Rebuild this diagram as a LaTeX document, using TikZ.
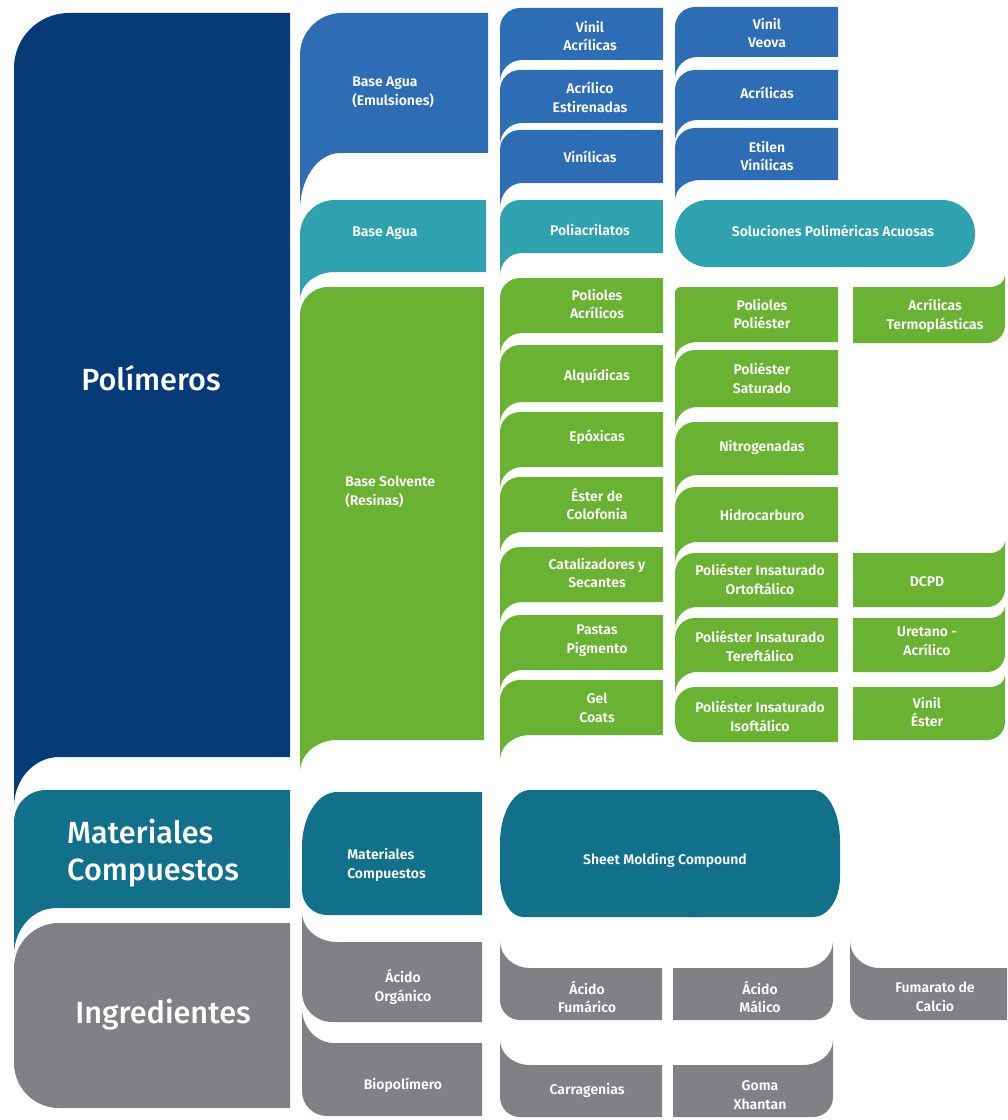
\documentclass[tikz,border=0pt]{standalone}
\usepackage{fontspec}
\setmainfont{Fira Sans}[BoldFont={Fira Sans SemiBold}]
\newfontfamily\medfont{Fira Sans Medium}
\definecolor{navy}{HTML}{053C78}
\definecolor{azul}{HTML}{2D6DB5}
\definecolor{turq}{HTML}{2EA2AF}
\definecolor{verde}{HTML}{6AB232}
\definecolor{petro}{HTML}{11708A}
\definecolor{gris}{HTML}{7F8184}
% Block with its shaped edge on the left.
% #2 left x, #3 right x, #4 top y, #5 bottom y,
% #6/#7 top-left corner (b>0 rounded, b<0 flared upwards),
% #8/#9 bottom-left corner (d>0 tail downwards, d<0 rounded).
\newcommand{\blkL}[9]{%
  \fill[#1] (#3,#4) -- ({#2+(#6)},#4)
    .. controls ({#2+0.448*(#6)},#4) and (#2,{#4+0.448*(#7)}) .. (#2,{#4+(#7)})
    -- (#2,{#5+(#9)})
    .. controls (#2,{#5+0.448*(#9)}) and ({#2+0.448*(#8)},#5) .. ({#2+(#8)},#5)
    -- (#3,#5) -- cycle;}
% Same block, mirrored: shaped edge on the right.
\newcommand{\blkR}[9]{%
  \fill[#1] (#2,#4) -- ({#3-(#6)},#4)
    .. controls ({#3-0.448*(#6)},#4) and (#3,{#4+0.448*(#7)}) .. (#3,{#4+(#7)})
    -- (#3,{#5+(#9)})
    .. controls (#3,{#5+0.448*(#9)}) and ({#3-0.448*(#8)},#5) .. ({#3-(#8)},#5)
    -- (#2,#5) -- cycle;}
\begin{document}
\begin{tikzpicture}[x=0.75pt,y=-0.75pt,
  lbl/.style={text=white,inner sep=0pt,align=center,
    font=\bfseries\fontsize{10.5}{14}\selectfont},
  big/.style={text=white,inner sep=0pt,align=left,
    font=\medfont\fontsize{23}{28}\selectfont}]
\useasboundingbox (0,0) rectangle (1007,1120);
\fill[white] (0,0) rectangle (1007,1120);

% ---- main categories
\blkL{navy}{14}{290}{13}{757}{55}{55}{45}{50}
\blkL{petro}{14}{290}{790}{908}{32}{32}{42}{47}
\blkL{gris}{14}{290}{923}{1108}{45}{45}{45}{-45}

% ---- second column
\blkL{azul}{300}{488}{13}{153}{42}{42}{40}{57}
\blkL{turq}{300}{486}{200}{272}{35}{35}{35}{28}
\blkL{verde}{300}{484}{287}{740}{28}{28}{37}{32}
\blkL{petro}{302}{482}{792}{915}{35}{55}{25}{-25}
\blkL{gris}{302}{482}{942}{1022}{35}{-30}{30}{-30}
\blkL{gris}{302}{482}{1043}{1116}{32}{-35}{25}{-25}

% ---- third column
\blkL{azul}{500}{663}{8}{60}{20}{20}{22}{22}
\blkL{azul}{500}{663}{70}{123}{20}{20}{22}{22}
\blkL{azul}{500}{663}{130}{183}{20}{20}{22}{25}
\blkL{turq}{500}{663}{200}{253}{20}{20}{22}{22}
\blkL{verde}{500}{663}{278}{333}{20}{20}{22}{22}
\blkL{verde}{500}{663}{345}{402}{20}{20}{22}{22}
\blkL{verde}{500}{663}{412}{467}{20}{20}{22}{22}
\blkL{verde}{500}{663}{477}{532}{20}{20}{22}{22}
\blkL{verde}{500}{663}{547}{602}{20}{20}{22}{22}
\blkL{verde}{500}{663}{615}{670}{20}{20}{22}{22}
\blkL{verde}{500}{663}{680}{735}{20}{20}{30}{25}
% sheet molding compound
\blkL{petro}{500}{700}{790}{917}{30}{53}{23}{-40}
\blkR{petro}{690}{840}{790}{917}{27}{51}{27}{-40}
\blkL{gris}{500}{662}{968}{1020}{30}{-27}{20}{-20}
\blkL{gris}{500}{662}{1065}{1117}{30}{-25}{20}{-20}

% ---- fourth column
\blkL{azul}{675}{838}{7}{57}{20}{20}{22}{22}
\blkL{azul}{675}{838}{70}{120}{20}{20}{22}{22}
\blkL{azul}{675}{838}{128}{180}{20}{20}{25}{20}
\fill[turq,rounded corners=24.75pt] (675,200) rectangle (975,267);
\blkL{verde}{675}{838}{287}{342}{6}{6}{22}{18}
\blkL{verde}{675}{838}{350}{407}{20}{20}{22}{22}
\blkL{verde}{675}{838}{422}{475}{20}{20}{22}{22}
\blkL{verde}{675}{838}{487}{542}{20}{20}{22}{22}
\blkL{verde}{675}{838}{553}{607}{20}{20}{22}{22}
\blkL{verde}{675}{838}{618}{672}{20}{20}{22}{22}
\blkL{verde}{675}{838}{687}{742}{20}{20}{20}{-20}
\blkR{gris}{673}{833}{968}{1020}{30}{-27}{20}{-20}
\blkR{gris}{673}{833}{1065}{1117}{30}{-25}{20}{-20}

% ---- fifth column
\blkR{verde}{853}{1005}{287}{343}{15}{-12}{18}{-18}
\blkR{verde}{853}{1005}{553}{607}{15}{-12}{18}{-18}
\blkR{verde}{853}{1005}{618}{672}{15}{-12}{18}{-18}
\blkR{verde}{853}{1005}{687}{740}{15}{-12}{18}{-18}
\blkL{gris}{850}{1007}{968}{1020}{30}{-27}{20}{-20}

% ---- labels
\node[big,align=center] (pol) at (151,378) {Polímeros};
\node[big] (matc) at (153,853) {Materiales\\Compuestos};
\node[big] (ingr) at (163,1015) {Ingredientes};

\node[lbl,anchor=west,align=left] (bae) at (352,92) {Base Agua\\(Emulsiones)};
\node[lbl,anchor=west,align=left] (ba) at (352,233) {Base Agua};
\node[lbl,anchor=west,align=left] (bs) at (345,492) {Base Solvente\\(Resinas)};
\node[lbl,anchor=west,align=left] (mc2) at (347,865) {Materiales\\Compuestos};
\node[lbl] (ao) at (403,987) {Ácido\\Orgánico};
\node[lbl] (bio) at (403,1085) {Biopolímero};

\node[lbl] (va) at (590,36) {Vinil\\Acrílicas};
\node[lbl] (ae) at (590,97) {Acrílico\\Estirenadas};
\node[lbl] (vin) at (590,157) {Vinílicas};
\node[lbl] (pa) at (590,230) {Poliacrilatos};
\node[lbl] (pac) at (597,304) {Polioles\\Acrílicos};
\node[lbl] (alq) at (597,376) {Alquídicas};
\node[lbl] (epo) at (597,437) {Epóxicas};
\node[lbl] (est) at (597,504) {Éster de\\Colofonia};
\node[lbl] (cat) at (597,573) {Catalizadores y\\Secantes};
\node[lbl] (pas) at (597,641) {Pastas\\Pigmento};
\node[lbl] (gel) at (597,708) {Gel\\Coats};
\node[lbl] (smc) at (665,860) {Sheet Molding Compound};
\node[lbl] (afu) at (587,997) {Ácido\\Fumárico};
\node[lbl] (car) at (587,1090) {Carragenias};

\node[lbl] (vv) at (767,33) {Vinil\\Veova};
\node[lbl] (acr) at (767,93) {Acrílicas};
\node[lbl] (ev) at (767,156) {Etilen\\Vinílicas};
\node[lbl] (spa) at (833,231) {Soluciones Poliméricas Acuosas};
\node[lbl] (pp) at (762,314) {Polioles\\Poliéster};
\node[lbl] (ps) at (762,378) {Poliéster\\Saturado};
\node[lbl] (nit) at (762,447) {Nitrogenadas};
\node[lbl] (hid) at (762,515) {Hidrocarburo};
\node[lbl] (orto) at (760,579) {Poliéster Insaturado\\Ortoftálico};
\node[lbl] (tere) at (760,646) {Poliéster Insaturado\\Tereftálico};
\node[lbl] (iso) at (760,716) {Poliéster Insaturado\\Isoftálico};
\node[lbl] (ama) at (760,997) {Ácido\\Málico};
\node[lbl] (goma) at (760,1095) {Goma\\Xhantan};

\node[lbl] (at) at (935,316) {Acrílicas\\Termoplásticas};
\node[lbl] (dcpd) at (927,582) {DCPD};
\node[lbl] (ure) at (927,641) {Uretano -\\Acrílico};
\node[lbl] (ves) at (927,712) {Vinil\\Éster};
\node[lbl] (fum) at (935,997) {Fumarato de\\Calcio};
\end{tikzpicture}
\end{document}
